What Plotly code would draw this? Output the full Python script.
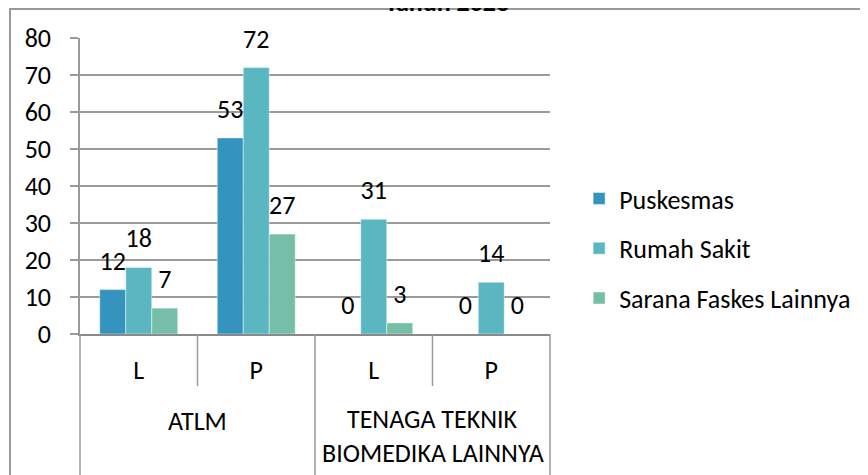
import plotly.graph_objects as go

# Jumlah tenaga per jenis fasilitas kesehatan, Tahun 2023
groups = ["ATLM", "ATLM", "TENAGA TEKNIK BIOMEDIKA LAINNYA", "TENAGA TEKNIK BIOMEDIKA LAINNYA"]
sexes = ["L", "P", "L", "P"]
puskesmas = [12, 53, 0, 0]
rumah_sakit = [18, 72, 31, 14]
sarana_lain = [7, 27, 3, 0]

series = [
    ("Puskesmas", puskesmas, "#3594BE"),
    ("Rumah Sakit", rumah_sakit, "#5AB7C2"),
    ("Sarana Faskes Lainnya", sarana_lain, "#76BEA7"),
]

FONT = "Carlito, Calibri, Lato, sans-serif"
FS = 26
GRID = "#9a9a9a"

# unique category per (group, sex) pair
xcat = [g + " | " + s for g, s in zip(groups, sexes)]

fig = go.Figure()
for name, vals, color in series:
    fig.add_trace(go.Bar(
        x=xcat, y=vals, name=name, legendgroup=name,
        marker=dict(color=color, line=dict(color="rgba(255,255,255,0.45)", width=1)),
        offsetgroup=name, alignmentgroup="a",
    ))
# data labels: invisible markers push the text a bit above the bar top
for name, vals, color in series:
    fig.add_trace(go.Scatter(
        x=xcat, y=vals, mode="markers+text", text=[str(v) for v in vals],
        textposition="top center", textfont=dict(family=FONT, size=FS, color="black"),
        marker=dict(size=20, opacity=0), orientation="v",
        offsetgroup=name, alignmentgroup="a",
        showlegend=False, hoverinfo="skip", cliponaxis=False,
    ))

# plot area: 470 x 296 px (page has an 8px body margin)
H = 296.0

shapes = []
# outer border of the chart object
shapes.append(dict(type="rect", xref="paper", yref="paper",
                   x0=-70 / 470, x1=800 / 470, y0=1 + 29 / H, y1=-156 / H,
                   line=dict(color="#999999", width=2)))
# category dividers under the axis
for i in range(5):
    outer = i in (0, 2, 4)
    shapes.append(dict(type="line", xref="paper", yref="paper",
                       x0=i / 4, x1=i / 4, y0=0, y1=(-156 / H) if outer else (-52 / H),
                       line=dict(color=GRID, width=1.5)))

annotations = [
    dict(text="<b>Tahun 2023</b>", xref="paper", yref="paper", x=(447 - 80) / 470,
         y=1 + 18 / H, xanchor="center", yanchor="bottom", showarrow=False,
         font=dict(family=FONT, size=FS, color="black")),
    dict(text="ATLM", xref="paper", yref="paper", x=0.25, y=-87 / H,
         xanchor="center", yanchor="middle", showarrow=False,
         font=dict(family=FONT, size=FS, color="black")),
    dict(text="TENAGA TEKNIK", xref="paper", yref="paper", x=0.75, y=-85 / H,
         xanchor="center", yanchor="middle", showarrow=False,
         font=dict(family=FONT, size=FS, color="black")),
    dict(text="BIOMEDIKA LAINNYA", xref="paper", yref="paper", x=0.75, y=-119 / H,
         xanchor="center", yanchor="middle", showarrow=False,
         font=dict(family=FONT, size=FS, color="black")),
]

fig.update_layout(
    width=868, height=475, autosize=False,
    margin=dict(l=72, r=326, t=30, b=149),
    paper_bgcolor="white", plot_bgcolor="white",
    font=dict(family=FONT, size=FS, color="black"),
    barmode="group", bargap=0.336, bargroupgap=0,
    scattermode="group", scattergap=0.336,
    showlegend=True,
    legend=dict(x=1.062, y=(334 - 248.5) / H, xanchor="left", yanchor="middle",
                font=dict(family=FONT, size=FS, color="black"),
                tracegroupgap=13, traceorder="grouped", bgcolor="rgba(0,0,0,0)"),
    shapes=shapes, annotations=annotations,
)
fig.update_xaxes(type="category", categoryorder="array", categoryarray=xcat,
                 tickvals=xcat, ticktext=sexes, ticks="", ticklabelstandoff=12,
                 showline=True, linecolor="#8a8a8a", linewidth=2,
                 showgrid=False, tickfont=dict(family=FONT, size=FS))
fig.update_yaxes(range=[0, 80], dtick=10, ticks="outside", ticklen=8,
                 tickcolor=GRID, tickwidth=1.5, ticklabelstandoff=14,
                 showline=True, linecolor=GRID, linewidth=1.5,
                 showgrid=True, gridcolor=GRID, gridwidth=1.5, zeroline=False,
                 tickfont=dict(family=FONT, size=FS))

fig.write_html("out.html")
